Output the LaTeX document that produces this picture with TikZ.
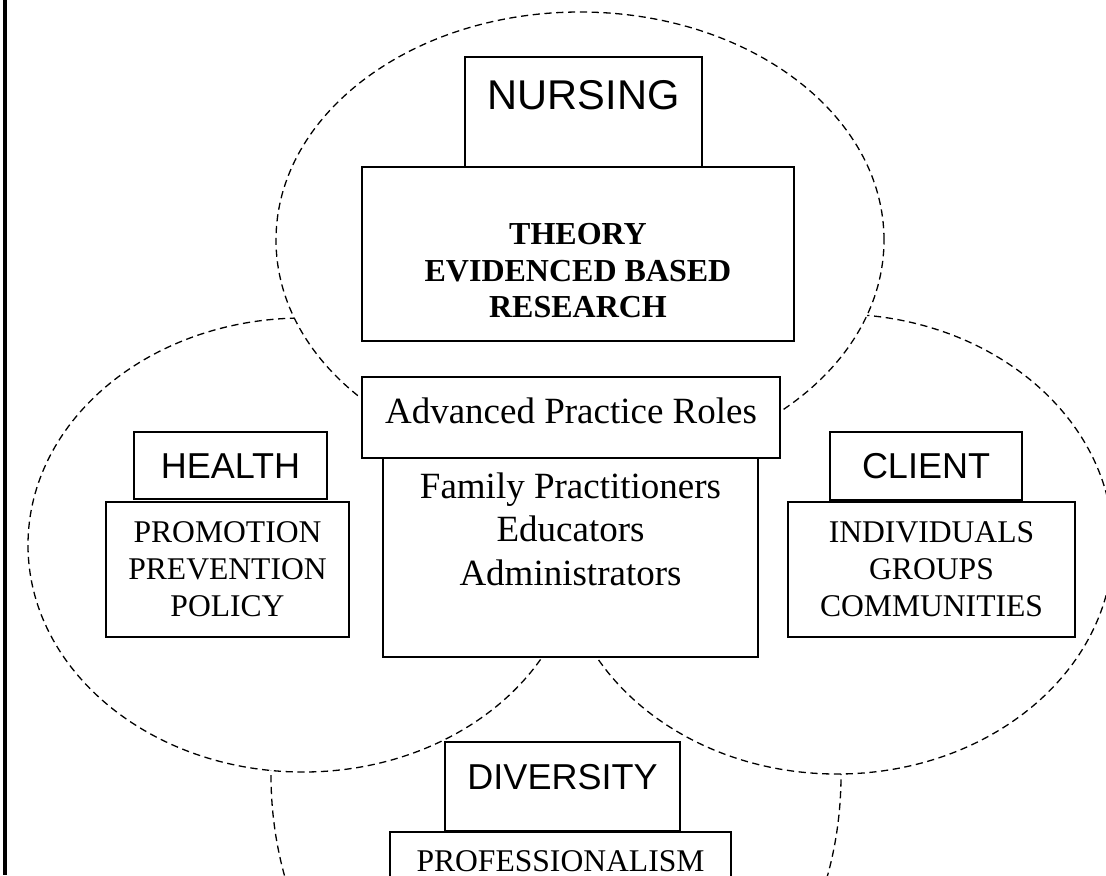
\documentclass[tikz,border=0pt]{standalone}
\usepackage{fontspec}
\setmainfont{Liberation Serif}
\newfontfamily\labelsans{Liberation Sans}
\usepackage{xcolor}
\usepackage{tikz}

\begin{document}
\begin{tikzpicture}[x = 0.5pt,
                    y = -0.5pt,
                    color = {black}]

  \useasboundingbox (0, 0) rectangle (1106, 875);
  \clip (0, 0) rectangle (1106, 875);


  % DEF POINTS
  \coordinate (c_nursing) at (580, 240);
  \coordinate (c_health) at (303, 545);
  \coordinate (c_client) at (837, 544);
  \coordinate (c_diversity) at (556, 775);
  \coordinate (border_top) at (5, 0);
  \coordinate (border_bottom) at (5, 875);


  % CIRCLES STYLE
  \definecolor{edgecolor_c}{rgb}{ 0,0,0 }
  \tikzstyle{circlestyle_c} = [fill=white, draw=edgecolor_c, line width=0.65pt, dash pattern=on 3.6pt off 2.3pt]


  % BOXES STYLE
  \definecolor{edgecolor_b}{rgb}{ 0,0,0 }
  \tikzstyle{boxstyle_b} = [rectangle, fill=white, draw=edgecolor_b, line width=1pt, inner sep=0pt]
  \tikzstyle{sans_t} = [inner sep=0pt, font=\labelsans\fontsize{18}{21}\selectfont]
  \tikzstyle{serif_t} = [inner sep=0pt, align=center, font=\fontsize{15.8}{18.6}\selectfont]
  \tikzstyle{large_t} = [inner sep=0pt, align=center, font=\fontsize{18.5}{21.75}\selectfont]


  % BORDER
  \draw[line width=2pt] (border_top) -- (border_bottom);


  % CIRCLES in the right order
  \draw[circlestyle_c] (c_diversity) ellipse [x radius=142.5pt, y radius=165pt];
  \draw[circlestyle_c] (c_health) ellipse [x radius=137.5pt, y radius=113.5pt];
  \draw[circlestyle_c] (c_client) ellipse [x radius=138pt, y radius=115pt];
  \draw[circlestyle_c] (c_nursing) ellipse [x radius=152pt, y radius=114pt];


  %BOXES
  \node[boxstyle_b, minimum width=118.5pt, minimum height=55pt] (nursing) at (583.5, 112) {};
  \node[boxstyle_b, minimum width=216pt, minimum height=87pt] (theory) at (578, 254) {};
  \node[boxstyle_b, minimum width=187.5pt, minimum height=99.5pt] (practitioners) at (570.5, 557.5) {};
  \node[boxstyle_b, minimum width=209pt, minimum height=40.5pt] (roles) at (571, 417.5) {};

  \node[boxstyle_b, minimum width=96.5pt, minimum height=33.5pt] (health) at (230.5, 465.5) {};
  \node[boxstyle_b, minimum width=121.5pt, minimum height=67.5pt] (promotion) at (227.5, 569.5) {};

  \node[boxstyle_b, minimum width=96pt, minimum height=34pt] (client) at (926, 466) {};
  \node[boxstyle_b, minimum width=143.5pt, minimum height=67.5pt] (groups) at (931.5, 569.5) {};

  \node[boxstyle_b, minimum width=117.5pt, minimum height=44.5pt] (diversity) at (562.5, 786.5) {};
  \node[boxstyle_b, minimum width=170.5pt, minimum height=44pt] (professionalism) at (560.5, 876) {};


  %TEXTS
  \node[sans_t, font=\labelsans\fontsize{20.8}{24}\selectfont] (nursing_txt) at (583.5, 95) {NURSING};
  \node[serif_t, font=\bfseries\fontsize{16}{18.25}\selectfont] (theory_txt) at (578, 271) {THEORY\\EVIDENCED BASED\\RESEARCH};
  \node[large_t] (roles_txt) at (571, 410.5) {Advanced Practice Roles};
  \node[large_t] (practitioners_txt) at (570.5, 529) {Family Practitioners\\Educators\\Administrators};

  \node[sans_t] (health_txt) at (230.5, 466) {HEALTH};
  \node[serif_t] (promotion_txt) at (227.5, 569) {PROMOTION\\PREVENTION\\POLICY};

  \node[sans_t] (client_txt) at (926, 466) {CLIENT};
  \node[serif_t] (groups_txt) at (931.5, 569) {INDIVIDUALS\\GROUPS\\COMMUNITIES};

  \node[sans_t] (diversity_txt) at (562.5, 777) {DIVERSITY};
  \node[serif_t] (professionalism_txt) at (560.5, 861) {PROFESSIONALISM};

\end{tikzpicture}
\end{document}
